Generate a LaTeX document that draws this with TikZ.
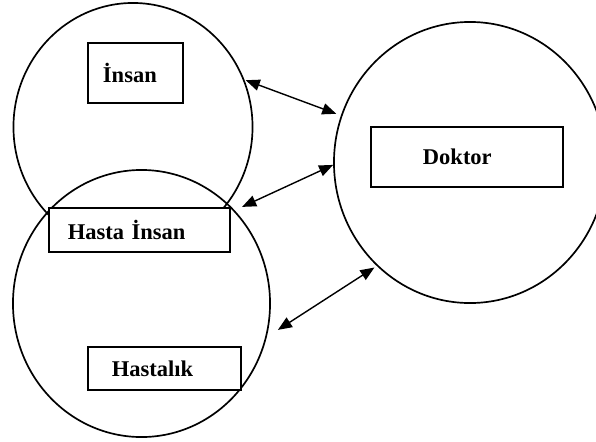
\documentclass[tikz,border=0pt]{standalone}
\usepackage{fontspec}
\setmainfont{Liberation Serif}
\usetikzlibrary{shapes.geometric,arrows.meta}
\begin{document}
\begin{tikzpicture}[x=0.025cm,y=-0.025cm,
    set/.style={ellipse,draw,line width=1.2pt,inner sep=0pt},
    lbl/.style={rectangle,draw,line width=1.2pt,fill=white,align=left,
      font=\fontsize{16}{19}\selectfont\bfseries},
    rel/.style={{Triangle[length=10pt,width=8pt]}-{Triangle[length=10pt,width=8pt]},line width=1pt}]
  \useasboundingbox (0,0) rectangle (596,441);
  % ---- the three sets ----
  \node[set,minimum width=5.975cm,minimum height=6.2cm]   (insanC)    at (133,127)     {};
  \node[set,minimum width=6.425cm,minimum height=6.675cm] (hastalikC) at (141.5,303.5) {};
  \node[set,minimum width=6.8cm,minimum height=7.025cm]   (doktorC)   at (470,162.5)   {};
  % ---- the labels ----
  \node[lbl,inner xsep=0.375cm,text width=1.625cm,minimum height=1.5cm]   (insan)    at (135.5,73)    {İnsan};
  \node[lbl,inner xsep=0.475cm,text width=3.575cm,minimum height=1.1cm]   (hasta)    at (139.5,230)   {Hasta İnsan};
  \node[lbl,inner xsep=0.6cm,text width=2.625cm,minimum height=1.075cm]   (hastalik) at (164.5,368.5) {Hastalık};
  \node[lbl,inner xsep=1.3cm,text width=2.2cm,minimum height=1.5cm]       (doktor)   at (467,157)     {Doktor};
  % ---- relations with the doctor ----
  \draw[rel,shorten <=1pt,shorten >=3.5pt] (insanC.23) -- (doktorC.160);
  \draw[rel,shorten <=5.8pt] (hastalikC.45) -- (doktorC.181);
  \draw[rel,shorten <=9.4pt,shorten >=2pt] (hastalikC.-15) -- (doktorC.228);
\end{tikzpicture}
\end{document}
